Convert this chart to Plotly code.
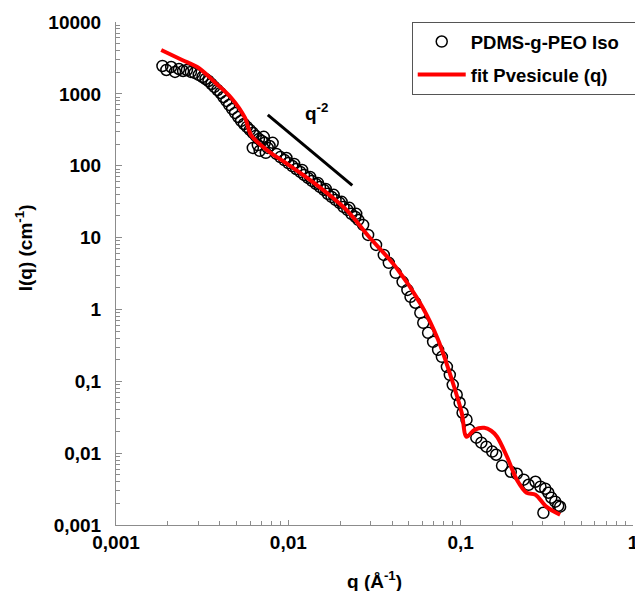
import plotly.graph_objects as go

# ---- data ----
q_data = [0.00186, 0.00196, 0.00209, 0.00220, 0.00232, 0.00245, 0.00258, 0.00272, 0.00286, 0.00302,
          0.00318, 0.00331, 0.00344, 0.00358, 0.00372, 0.00388, 0.00404, 0.00420, 0.00437, 0.00454,
          0.00472, 0.00491, 0.00512, 0.00532, 0.00553, 0.00575, 0.00598, 0.00622, 0.00647, 0.00675,
          0.00702, 0.00730, 0.00622, 0.00682, 0.00740, 0.00778, 0.00720, 0.00811, 0.00759, 0.00665,
          0.00853, 0.00899, 0.00948, 0.01000, 0.01054, 0.01111, 0.01173, 0.01233, 0.01300, 0.01371,
          0.01445, 0.01524, 0.01607, 0.01694, 0.01782, 0.01879, 0.01982, 0.02089, 0.02203, 0.02323,
          0.02449, 0.02547, 0.00975, 0.01081, 0.01202, 0.01337, 0.01483, 0.01648, 0.01832, 0.02038,
          0.02259, 0.02477, 0.02716, 0.02904, 0.03228, 0.03580, 0.03828, 0.04198, 0.04603, 0.04909,
          0.05117, 0.05458, 0.05834, 0.06067, 0.06471, 0.06918, 0.07396, 0.07780, 0.08318, 0.08650,
          0.08995, 0.09484, 0.09863, 0.1026, 0.1081, 0.1124, 0.1233, 0.1318, 0.1410, 0.1524,
          0.1607, 0.1738, 0.1954, 0.2118, 0.2323, 0.2477, 0.2716, 0.2904, 0.3097, 0.3228,
          0.3357, 0.3540, 0.3681, 0.3776, 0.3020]
I_data = [2443, 2150, 2365, 2018, 2218, 2080, 2150, 2018, 1955, 1833,
          1718, 1611, 1510, 1373, 1248, 1133, 1028, 905, 797, 701,
          617, 543, 477, 420, 381, 347, 315, 286, 260, 236,
          221, 208, 177, 161, 151, 188, 252, 208, 177, 194,
          146, 132, 120, 109, 99, 90, 82, 74.5, 67.6, 61.5,
          55.8, 50.7, 46.0, 40.6, 36.8, 33.4, 30.4, 26.7, 24.3, 21.4,
          19.4, 17.6, 128, 106, 87.5, 69.8, 57.7, 47.5, 39.3, 31.4,
          25.9, 21.4, 15.0, 10.9, 7.9, 5.74, 4.45, 3.23, 2.42, 1.87,
          1.50, 1.24, 0.898, 0.652, 0.473, 0.354, 0.274, 0.219, 0.159, 0.123,
          0.0893, 0.0649, 0.0502, 0.0365, 0.0292, 0.0211, 0.0164, 0.0140, 0.0123, 0.0105,
          0.0095, 0.00668, 0.00551, 0.00516, 0.00427, 0.00363, 0.0040, 0.00341, 0.0032, 0.00281,
          0.0024, 0.00211, 0.00185, 0.0018, 0.00148]

q_fit = [0.00183, 0.00242, 0.00302, 0.00378, 0.00467, 0.00561, 0.00607, 0.00692, 0.00789, 0.00948,
         0.01409, 0.02173, 0.02904, 0.04198, 0.05984, 0.07396, 0.08892, 0.1014, 0.1081, 0.1202,
         0.1371, 0.1503, 0.1626, 0.1858, 0.2118, 0.2415, 0.2716, 0.314, 0.3776]
I_fit = [4083, 2958, 2291, 1419, 877, 462, 268, 194, 151, 113,
         57.7, 24.3, 10.6, 3.91, 1.09, 0.378, 0.105, 0.0365, 0.0169, 0.0211,
         0.0225, 0.0205, 0.0169, 0.0089, 0.00427, 0.00281, 0.00264, 0.0018, 0.00139]

q_guide = [0.0076, 0.0235]
guide_coef = 0.0294          # I = coef * q^-2
I_guide = [guide_coef * q ** -2 for q in q_guide]

x_tickvals = [0.001, 0.01, 0.1, 1]
x_ticktext = ["0,001", "0,01", "0,1", "1"]
y_tickvals = [0.001, 0.01, 0.1, 1, 10, 100, 1000, 10000]
y_ticktext = ["0,001", "0,01", "0,1", "1", "10", "100", "1000", "10000"]

series_names = ["PDMS-g-PEO Iso", "fit Pvesicule (q)"]

FONT = "Liberation Sans, Arial, sans-serif"
AX = "#8c8c8c"
PAD = "\u00a0" * 3


def minor_vals(lo_exp, hi_exp):
    return [m * 10.0 ** e for e in range(lo_exp, hi_exp) for m in range(2, 10)]


fig = go.Figure()
fig.add_trace(go.Scatter(
    x=q_data, y=I_data, mode="markers", name="<b>%s</b>%s" % (series_names[0], PAD),
    legendgroup="a",
    marker=dict(symbol="circle-open", size=11, color="black", line=dict(width=1.5, color="black")),
))
fig.add_trace(go.Scatter(
    x=q_fit, y=I_fit, mode="lines", name="<b>%s</b>" % series_names[1],
    legendgroup="b",
    line=dict(color="#ff0000", width=4, shape="spline", smoothing=0.9),
))
fig.add_trace(go.Scatter(
    x=q_guide, y=I_guide, mode="lines", showlegend=False,
    line=dict(color="black", width=3),
))

fig.add_annotation(x=-1.834, y=2.748, xref="x", yref="y", text="<b>q<sup>-2</sup></b>",
                   showarrow=False, font=dict(family=FONT, size=19, color="black"))
fig.add_annotation(x=0.5, y=-0.109, xref="paper", yref="paper", xanchor="center", yanchor="middle",
                   text="<b>q (Å<sup>-1</sup>)</b>", showarrow=False,
                   font=dict(family=FONT, size=19, color="black"))
fig.add_annotation(x=-0.179, y=0.551, xref="paper", yref="paper", xanchor="center", yanchor="middle",
                   textangle=-90, text="<b>I(q) (cm<sup>-1</sup>)</b>", showarrow=False,
                   font=dict(family=FONT, size=19, color="black"))

fig.update_xaxes(type="log", range=[-3, 0], showline=True, linecolor=AX, linewidth=1,
                 automargin=False,
                 showgrid=False, zeroline=False, ticks="inside", ticklen=5, tickcolor=AX,
                 tickmode="array", tickvals=x_tickvals, ticktext=["<b>%s</b>" % t for t in x_ticktext],
                 tickfont=dict(family=FONT, size=19, color="black"), ticklabelstandoff=0,
                 minor=dict(ticks="inside", ticklen=4, tickcolor=AX, tickmode="array",
                            tickvals=minor_vals(-3, 0), showgrid=False))
fig.update_yaxes(type="log", range=[-3, 4], showline=True, linecolor=AX, linewidth=1,
                 automargin=False,
                 showgrid=False, zeroline=False, ticks="inside", ticklen=6, tickcolor=AX,
                 tickmode="array", tickvals=y_tickvals, ticktext=["<b>%s</b>" % t for t in y_ticktext],
                 tickfont=dict(family=FONT, size=19, color="black"), ticklabelstandoff=10,
                 minor=dict(ticks="inside", ticklen=4, tickcolor=AX, tickmode="array",
                            tickvals=minor_vals(-3, 4), showgrid=False))

fig.update_layout(
    width=643, height=591,
    margin=dict(l=108, r=10, t=14, b=74),
    paper_bgcolor="white", plot_bgcolor="white",
    font=dict(family=FONT, color="black"),
    legend=dict(x=0.572, y=1.0, xanchor="left", yanchor="top",
                bgcolor="white", bordercolor="#555", borderwidth=1,
                font=dict(family=FONT, size=18.5, color="black"),
                tracegroupgap=6, itemwidth=48),
)

fig.write_html("out.html")
